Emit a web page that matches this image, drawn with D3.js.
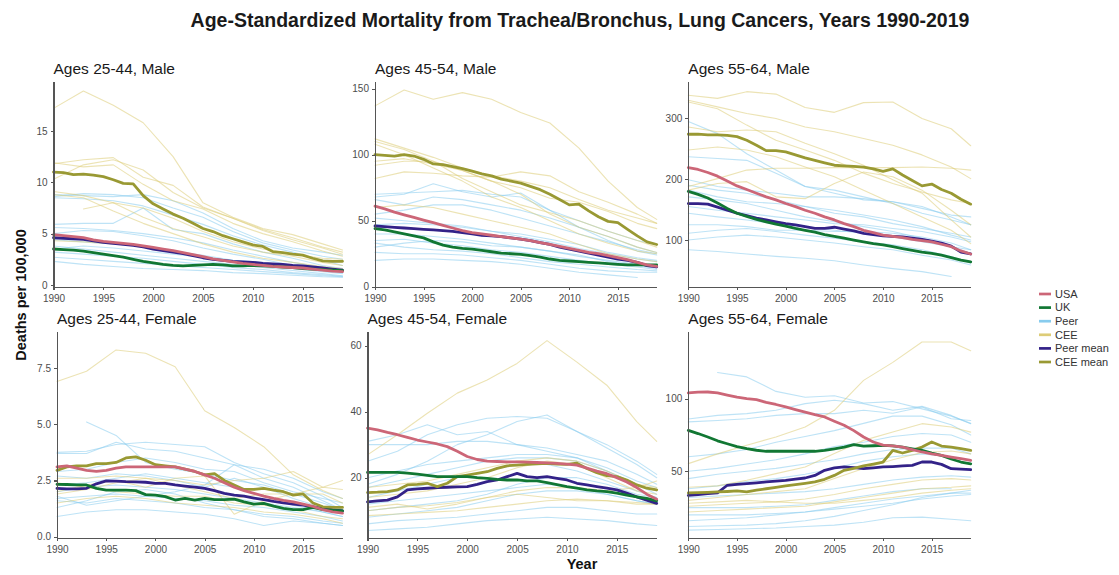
<!DOCTYPE html>
<head>
<meta charset="utf-8">
<title>Age-Standardized Mortality from Trachea/Bronchus, Lung Cancers</title>
<script src="https://d3js.org/d3.v7.min.js"></script>
<style>
body { margin: 0; background: #ffffff; }

/* AXES */
.axis path, .axis line {
  stroke: #555555;
  stroke-width: 1.1;
  shape-rendering: crispEdges;
}
.axis text {
  fill: #4d4d4d;
  font-family: "Liberation Sans", Arial, sans-serif;
  font-size: 10px;
}

/* TEXTS */
.main_title { font-family: "Liberation Sans", Arial, sans-serif; font-weight: bold; font-size: 19.5px; fill: #1a1a1a; }
.panel_title { font-family: "Liberation Sans", Arial, sans-serif; font-size: 15.5px; fill: #1a1a1a; }
.axis_title { font-family: "Liberation Sans", Arial, sans-serif; font-weight: bold; font-size: 14.5px; fill: #111111; }
.legend_text { font-family: "Liberation Sans", Arial, sans-serif; font-size: 11px; fill: #333333; }

/* LINES */
.serie { fill: none; stroke-linejoin: round; stroke-linecap: round; }
.bg { stroke-width: 1.1; opacity: 0.55; }
.main { stroke-width: 2.8; }
</style>
</head>

<body>
<div id="container"></div>

<script>

//------------------------0. DATA-------------------------//

const years = [1990, 1991, 1992, 1993, 1994, 1995, 1996, 1997, 1998, 1999,
               2000, 2001, 2002, 2003, 2004, 2005, 2006, 2007, 2008, 2009,
               2010, 2011, 2012, 2013, 2014, 2015, 2016, 2017, 2018, 2019];
// individual peer / CEE countries, read every third year
const gridYears = [1990, 1993, 1996, 1999, 2002, 2005, 2008, 2011, 2014, 2017, 2019];
const xTicks = [1990, 1995, 2000, 2005, 2010, 2015];

const panelTitles = ["Ages 25-44, Male", "Ages 45-54, Male", "Ages 55-64, Male",
                     "Ages 25-44, Female", "Ages 45-54, Female", "Ages 55-64, Female"];
const yTicks = [[0, 5, 10, 15], [0, 50, 100, 150], [100, 200, 300],
                [0, 2.5, 5, 7.5], [20, 40, 60], [50, 100]];
const yDomains = [[-0.2, 19.8], [-0.2, 155.3], [22.7, 360.4],
                  [-0.07, 9.11], [1.64, 64.2], [3.9, 146.1]];

const legendLabels = ["USA", "UK", "Peer", "CEE", "Peer mean", "CEE mean"];
const legendColors = ["#CC6677", "#117733", "#88CCEE", "#DDCC77", "#332288", "#999933"];

// --- Ages 25-44, Male
const usa_m2544 = [4.9, 4.8, 4.7, 4.6, 4.4, 4.25, 4.15, 4.05, 3.95, 3.8, 3.65, 3.5, 3.35, 3.15, 2.95, 2.75, 2.55, 2.4, 2.25, 2.1, 2.0, 1.9, 1.8, 1.75, 1.7, 1.65, 1.55, 1.45, 1.35, 1.3];
const uk_m2544 = [3.5, 3.45, 3.4, 3.3, 3.15, 3.0, 2.85, 2.7, 2.5, 2.3, 2.15, 2.0, 1.9, 1.85, 1.9, 1.95, 2.0, 1.95, 1.85, 1.85, 1.9, 1.85, 1.8, 1.75, 1.7, 1.6, 1.55, 1.5, 1.45, 1.4];
const peerMean_m2544 = [4.6, 4.55, 4.5, 4.45, 4.3, 4.15, 4.05, 3.95, 3.85, 3.7, 3.5, 3.35, 3.2, 3.05, 2.85, 2.65, 2.5, 2.4, 2.3, 2.25, 2.2, 2.1, 2.05, 2.0, 1.9, 1.85, 1.75, 1.65, 1.55, 1.45];
const ceeMean_m2544 = [11.0, 10.95, 10.75, 10.8, 10.7, 10.55, 10.25, 9.9, 9.85, 8.7, 7.9, 7.4, 6.9, 6.5, 6.0, 5.5, 5.2, 4.8, 4.5, 4.2, 3.9, 3.75, 3.25, 3.15, 3.0, 2.9, 2.6, 2.35, 2.3, 2.3];
const cee_m2544 = [
  [17.2, 18.9, 17.5, 15.8, 12.5, 8.0, 6.6, 5.5, 4.9, 4.0, 3.4],
  [11.8, 12.2, 12.4, 10.5, 9.7, 7.6, 6.5, 5.4, 4.6, 3.7, 3.2],
  [10.3, 11.7, 12.2, 11.2, 9.0, 7.5, 6.5, 5.3, 4.4, 3.6, 3.0],
  [11.9, 11.5, 11.7, 9.8, 8.2, 7.4, 6.0, 5.0, 4.2, 3.3, 2.8],
  [9.1, 8.7, 8.0, 6.6, 5.5, 4.7, 3.8, 3.2, 2.8, 2.2, 1.9],
  [null, 7.4, 8.0, 7.5, 6.5, 5.2, 4.2, 3.5, 3.0, 2.6, 2.5],
  [8.8, 8.5, 7.2, 6.0, 5.0, 4.0, 3.2, 2.6, 2.2, 1.8, 1.6],
  [4.3, 4.2, 4.0, 3.8, 3.3, 2.8, 2.2, 1.9, 1.7, 1.4, 1.3]
];
const peer_m2544 = [
  [8.6, 8.9, 8.8, 8.5, 7.5, 6.6, 5.2, 4.1, 3.4, 2.8, 2.5],
  [8.5, 8.4, 8.2, 7.7, 6.8, 5.9, 4.8, 3.9, 3.2, 2.4, 1.9],
  [8.8, 8.7, 8.6, 8.8, 8.2, 7.0, 5.5, 4.3, 3.6, 3.2, 2.9],
  [5.9, 6.0, 6.0, 7.5, 5.4, 5.0, 4.0, 3.2, 2.6, 1.9, 1.6],
  [5.6, 5.5, 5.3, 5.0, 4.6, 4.1, 3.4, 2.8, 2.2, 1.7, 1.4],
  [5.0, 5.3, 5.2, 4.8, 4.3, 3.6, 3.0, 2.5, 1.9, 1.5, 1.2],
  [4.4, 4.2, 4.0, 3.8, 3.3, 2.9, 2.4, 2.1, 1.6, 1.3, 1.1],
  [3.8, 3.5, 3.2, 2.9, 2.6, 2.3, 2.0, 1.7, 1.4, 1.1, 0.9],
  [3.2, 3.0, 2.8, 2.6, 2.3, 2.0, 1.7, 1.5, 1.2, 1.0, 0.85],
  [2.7, 2.5, 2.3, 2.1, 1.9, 1.7, 1.5, 1.3, 1.1, 0.9, 0.8],
  [2.3, 2.0, 1.8, 1.6, 1.5, 1.4, 1.2, 1.1, 0.95, 0.8, 0.75],
  [3.5, 3.8, 3.6, 3.3, 3.0, 2.7, 2.4, 2.2, 1.8, 1.5, 1.3]
];

// --- Ages 45-54, Male
const usa_m4554 = [61, 59, 56.5, 54.5, 52.5, 50.5, 48.5, 46.5, 44.5, 42.5, 41, 40, 39, 38, 37, 36, 35, 33.5, 32, 30.5, 29, 27.5, 26, 25, 23.5, 22, 20.5, 18.5, 16.5, 15.5];
const uk_m4554 = [44, 43, 41.5, 40, 38.5, 37, 34, 31.5, 30, 29, 28.5, 27.5, 26.5, 25.5, 25, 24.5, 23.5, 22.5, 21, 20, 19.5, 19, 18.5, 18, 17.5, 17, 16.5, 16.5, 16.5, 16.5];
const peerMean_m4554 = [46, 45.5, 45, 44.5, 44, 43.5, 43, 42.5, 42, 41, 40, 39, 38.5, 38, 37, 36, 35, 33.5, 32, 30, 28.5, 27, 25.5, 24, 22.5, 21, 20, 18.5, 16, 15];
const ceeMean_m4554 = [100, 99.5, 99, 100, 99, 96.5, 93, 92.5, 91, 89.5, 87.5, 85.5, 84, 81.5, 80, 78.5, 76, 73.5, 70, 66, 62, 62.5, 57.5, 53, 49.5, 48.5, 43.5, 38.5, 34, 32];
const cee_m4554 = [
  [137, 149, 142, 147, 142, 132, 124, 105, 80, 60, 51],
  [112, 105, 98, 90, 84, 80, 75, 66, 58, 52, 48],
  [82, 87, 86, 84, 83, 87, 84, 72, 64, 55, 48],
  [110, 104, 95, 82, 72, 62, 56, 50, 42, 35, 30],
  [92, 95, 95, 88, 80, 75, 67, 64, 57, 48, 44],
  [108, 100, 90, 80, 68, 60, 50, 40, 33, 27, 25],
  [95, 97, 93, 88, 80, 70, 55, 45, 38, 30, 26],
  [60, 62, 60, 55, 50, 45, 40, 32, 25, 21, 19]
];
const peer_m4554 = [
  [68, 70, 78, 72, 68, 71, 58, 45, 35, 27, 24],
  [70, 71, 72, 73, 70, 68, 58, 50, 42, 35, 32],
  [66, 62, 68, 66, 62, 58, 52, 45, 38, 30, 26],
  [55, 58, 62, 62, 58, 52, 46, 40, 34, 28, 25],
  [52, 50, 48, 46, 42, 38, 34, 29, 25, 21, 19],
  [47, 48, 47, 45, 42, 40, 36, 32, 26, 22, 20],
  [40, 40, 38, 36, 33, 30, 27, 23, 20, 17, 15],
  [35, 36, 33, 31, 28, 26, 23, 20, 17, 15, 13],
  [33, 30, 28, 27, 25, 22, 19, 17, 15, 13, 12],
  [26, 25, 25, 24, 22, 20, 17, 14, 12, 11, 11],
  [20, 21, 21, 20, 19, 17, 14, 11, 9, 7, null],
  [30, 33, 35, 34, 31, 30, 27, 24, 19, 16, 14]
];

// --- Ages 55-64, Male
const usa_m5564 = [219, 216, 211, 205, 197, 189, 183, 177, 171, 166, 160, 155, 149, 144, 138, 133, 127, 122, 116, 112, 108, 106, 104, 101, 99, 97, 93, 89, 82, 77];
const uk_m5564 = [180, 175, 169, 161, 152, 144, 139, 134, 130, 126, 123, 119, 116, 113, 109, 106, 103, 100, 97, 94, 92, 89, 86, 83, 80, 78, 75, 71, 67, 64];
const peerMean_m5564 = [160, 160, 159, 154, 149, 144, 140, 136, 133, 130, 127, 125, 122, 119, 119, 121, 118, 115, 111, 109, 107, 106, 105, 103, 101, 98, 95, 90, 80, 77];
const ceeMean_m5564 = [274, 274, 273, 273, 272, 270, 264, 256, 247, 247, 245, 240, 235, 231, 227, 223, 222, 221, 220, 217, 213, 217, 207, 198, 189, 192, 183, 177, 167, 159];
const cee_m5564 = [
  [338, 333, 344, 340, 318, 310, 326, 327, 300, 283, 255],
  [330, 319, 308, 300, 286, 278, 267, 256, 240, 220, 201],
  [327, 316, 289, 264, 248, 231, 210, 193, 179, 166, 160],
  [188, 201, 215, 218, 218, 219, 219, 219, 220, 218, 215],
  [182, 193, 196, 171, 168, 193, 212, 204, 182, 149, 125],
  [286, 278, 281, 278, 259, 242, 223, 199, 177, 133, 105],
  [248, 253, 248, 237, 220, 204, 182, 160, 138, 116, 94]
];
const peer_m5564 = [
  [295, 275, 242, 215, 188, 182, 171, 160, 144, 133, 125],
  [237, 234, 231, 210, 188, 177, 166, 163, 155, 138, 125],
  [199, 188, 182, 177, 171, 171, 168, 163, 152, 141, 138],
  [182, 171, 163, 160, 155, 144, 138, 127, 119, 111, 105],
  [155, 149, 144, 138, 133, 127, 125, 119, 114, 105, 97],
  [144, 138, 133, 127, 122, 116, 111, 105, 97, 89, 84],
  [111, 116, 119, 114, 108, 103, 97, 92, 84, 73, 62],
  [100, 105, 108, 105, 100, 95, 89, 84, 75, 67, 59],
  [84, 81, 77, 73, 70, 66, 59, 53, 48, 40, null],
  [190, 182, 177, 166, 155, 149, 141, 133, 122, 108, 100],
  [171, 166, 160, 149, 138, 130, 122, 114, 103, 89, 78],
  [125, 125, 122, 116, 116, 114, 114, 111, 105, 95, 84]
];

// --- Ages 25-44, Female
const usa_f2544 = [3.1, 3.15, 3.05, 2.95, 2.9, 2.95, 3.05, 3.1, 3.1, 3.1, 3.1, 3.1, 3.1, 3.0, 2.9, 2.75, 2.6, 2.4, 2.2, 2.05, 1.93, 1.8, 1.7, 1.62, 1.55, 1.45, 1.35, 1.2, 1.1, 1.05];
const uk_f2544 = [2.33, 2.32, 2.3, 2.3, 2.15, 2.07, 2.07, 2.07, 2.05, 1.87, 1.85, 1.78, 1.63, 1.7, 1.63, 1.7, 1.65, 1.65, 1.67, 1.55, 1.45, 1.48, 1.36, 1.26, 1.2, 1.2, 1.3, 1.2, 1.17, 1.15];
const peerMean_f2544 = [2.15, 2.13, 2.13, 2.15, 2.35, 2.48, 2.47, 2.45, 2.44, 2.42, 2.37, 2.37, 2.3, 2.25, 2.2, 2.15, 2.05, 1.93, 1.85, 1.8, 1.72, 1.65, 1.57, 1.5, 1.45, 1.4, 1.33, 1.26, 1.2, 1.15];
const ceeMean_f2544 = [2.95, 3.1, 3.15, 3.15, 3.25, 3.25, 3.3, 3.5, 3.55, 3.4, 3.2, 3.15, 3.1, 3.0, 2.9, 2.75, 2.8, 2.5, 2.3, 2.1, 2.1, 2.15, 2.07, 2.0, 1.85, 1.9, 1.5, 1.33, 1.3, 1.3];
const cee_f2544 = [
  [6.9, 7.35, 8.3, 8.15, 7.55, 5.6, 4.85, 4.0, 2.75, 2.05, 1.7],
  [2.0, 2.3, 2.5, 2.2, 2.6, 2.7, 1.0, 1.6, 1.9, 2.2, 2.5],
  [2.6, 2.6, 2.7, 2.6, 2.5, 2.3, 2.5, 2.6, 2.9, 2.2, 2.1],
  [1.9, 2.1, 2.4, 2.6, 2.3, 2.0, 1.7, 1.9, 1.9, 1.9, 1.5],
  [2.4, 2.2, 2.0, 1.9, 1.8, 1.8, 1.5, 1.4, 1.2, 0.9, 0.8],
  [1.5, 1.7, 1.8, 1.7, 1.5, 1.4, 1.3, 1.1, 1.0, 0.8, 0.6]
];
const peer_f2544 = [
  [null, 5.1, 4.5, 3.3, 3.0, 2.8, 2.5, 2.3, 1.9, 1.5, 1.2],
  [3.75, 3.8, 4.1, 4.2, 4.1, 4.0, 3.3, 2.8, 2.4, 1.8, 1.3],
  [3.7, 3.7, 4.2, 3.9, 3.8, 3.5, 3.2, 3.0, 2.6, 2.0, 1.7],
  [2.9, 3.0, 3.3, 3.5, 3.3, 3.0, 2.9, 2.4, 2.0, 1.7, 1.5],
  [2.7, 2.6, 2.8, 2.7, 2.5, 2.2, 2.6, 2.2, 1.7, 1.3, 1.1],
  [2.0, 2.2, 2.3, 2.2, 2.1, 1.9, 1.7, 1.5, 1.3, 1.1, 0.9],
  [1.7, 1.8, 1.9, 1.8, 1.7, 1.6, 1.4, 1.3, 1.1, 0.9, 0.7],
  [1.6, 1.5, 1.7, 1.6, 1.5, 1.3, 1.2, 0.9, 0.8, 0.6, 0.5],
  [0.9, 1.1, 1.2, 1.2, 1.1, 1.0, 0.8, 0.5, 0.7, 0.6, 0.5],
  [1.3, 1.6, 2.0, 2.1, 1.9, 1.5, 1.2, 1.0, 0.9, 0.7, 0.6],
  [2.3, 2.4, 2.6, 2.8, 2.6, 2.4, 2.2, 1.8, 1.4, 1.1, 0.9],
  [1.8, 1.4, 1.6, 1.8, 2.0, 2.3, 3.2, 2.6, 2.2, 1.6, 1.2]
];

// --- Ages 45-54, Female
const usa_f4554 = [35, 34.5, 33.7, 33, 32.2, 31.4, 30.8, 30.2, 29.4, 28, 26.4, 25.5, 25, 24.9, 24.8, 24.8, 24.7, 24.6, 24.5, 24.3, 24.1, 23.8, 22.9, 22, 21.2, 20, 18.7, 17, 15, 13.5];
const uk_f4554 = [21.6, 21.6, 21.6, 21.6, 21.4, 21.1, 20.7, 20.3, 20.3, 20.3, 20.3, 20.0, 19.8, 19.5, 19.3, 19.3, 19.0, 19.0, 18.5, 17.9, 17.3, 16.8, 16.3, 16.0, 15.8, 15.3, 14.7, 14.2, 13.7, 13.0];
const peerMean_f4554 = [12.7, 13.0, 13.2, 14.2, 16.3, 16.6, 16.8, 17.0, 17.1, 17.2, 17.3, 18.0, 18.8, 19.3, 20.3, 21.3, 20.3, 20.0, 20.3, 19.8, 19.3, 18.3, 17.8, 17.3, 16.8, 16.3, 15.3, 14.2, 13.2, 12.2];
const ceeMean_f4554 = [15.5, 15.6, 15.8, 16.3, 17.8, 18.0, 18.3, 17.3, 18.3, 20.3, 20.8, 21.3, 21.8, 22.8, 23.6, 23.8, 24.0, 24.2, 24.3, 24.1, 24.0, 24.4, 22.8, 21.5, 20.6, 20.3, 19.3, 17.8, 16.8, 16.3];
const cee_f4554 = [
  [26.9, 33, 39.5, 45.6, 49.6, 54.6, 61.5, 55, 48, 37, 31],
  [11, 12, 10.5, 12, 14, 16, 17, 17, 16, 17, 19],
  [14, 15, 16, 18, 20, 23, 25, 24, 20, 16, 15],
  [10, 11, 11.5, 12.5, 14, 15, 14, 13, 13, 12, 12],
  [8.5, 9, 9.5, 10, 11, 12, 13, 13.5, 13, 12.5, 12],
  [17, 18, 19, 21, 23, 25, 26, 25, 22, 18, 17]
];
const peer_f4554 = [
  [25, 28, 33, 36, 38, 38.5, 38, 34, 29, 24, 20],
  [18, 21, 25, 30, 33, 37, 39, 34, 30, 25, 21],
  [31, 33, 36, 33, 34, 30, 29, 27, 25, 21, 18],
  [30, 30, 30, 31, 31, 30, 28, 26, 22, 18, 16],
  [17, 19, 21, 23, 25, 26, 26, 25, 22, 18, 15],
  [14, 16, 18, 20, 22, 24, 24, 22, 19, 16, 14],
  [12, 13, 14, 15, 16, 17, 18, 17, 15, 13, 12],
  [8, 9, 10, 11, 13, 15, 16, 16, 15, 13, 12],
  [6, 7, 7.5, 8, 9, 10, 11, 11, 10, 9, 9],
  [4, 4.5, 5, 6, 7, 7.5, 8, 7.5, 7, 6, 5.5],
  [10, 11, 12, 13, 15, 18, 20, 20, 18, 15, 14],
  [20, 22, 24, 25, 26, 27, 27, 26, 23, 19, 17]
];

// --- Ages 55-64, Female
const usa_f5564 = [104, 104.5, 104.6, 104, 102.5, 101, 100, 99.3, 97.5, 96, 94.3, 92.5, 90.8, 89, 87.4, 84.5, 81.7, 78, 73.6, 70.2, 68, 67.5, 66.7, 65, 63.3, 62, 61, 59.8, 58.7, 57.6];
const uk_f5564 = [78.2, 76, 73.6, 71, 69, 67, 65.6, 64.5, 63.8, 63.8, 63.8, 63.8, 63.8, 63.8, 64.4, 65.5, 66.7, 68.3, 67.4, 67.6, 67.9, 67.5, 66.7, 65.5, 64.4, 62.5, 61, 58.5, 56.4, 55.2];
const peerMean_f5564 = [33.5, 34, 34.6, 35.1, 40.4, 41, 41.5, 42.1, 42.7, 43.2, 43.8, 44.6, 45.4, 47.2, 50.7, 52.3, 53, 52.5, 51.8, 52.4, 53, 53.3, 53.7, 54.1, 56.4, 56.4, 54.8, 51.8, 51.5, 51.1];
const ceeMean_f5564 = [35.1, 35.3, 35.5, 35.8, 36.1, 36.5, 35.8, 37, 38, 39, 40, 40.8, 41.7, 42.7, 44.5, 47.2, 50.7, 52, 53.7, 55, 56.4, 64.4, 62.6, 64.4, 66.7, 70.2, 67.4, 66.7, 65.6, 64.4];
const cee_f5564 = [
  [55.3, 62, 68, 73.6, 80.5, 92, 112.6, 125, 139, 139, 133],
  [39, 40, 43.8, 48.4, 53, 62.2, 71.3, 77, 82.8, 80.5, 77],
  [30, 32, 34, 36, 38, 45, 52, 58, 63, 64, 62],
  [26, 27, 28, 29, 31, 34, 38, 41, 44, 45, 44],
  [22, 23, 24, 25, 26, 29, 32, 35, 38, 39, 40],
  [28, 29, 30, 29, 28, 28, 30, 32, 35, 37, 38]
];
const peer_f5564 = [
  [null, 118, 115, 105, 101, 102, 97, 98, 93, 88, 83],
  [86, 88.5, 89.7, 92, 96.6, 98.9, 96.6, 92, 94.7, 88.5, 82.8],
  [84, 85, 86.2, 88.5, 89.7, 89.7, 92, 90, 94.3, 86.2, 85],
  [60, 62, 65, 70, 74, 78, 83, 88, 88, 82, 75],
  [50, 52, 55, 58, 62, 67, 70, 74, 76, 75, 70],
  [45, 48, 50, 52, 55, 58, 62, 65, 66, 66, 62],
  [38, 40, 43, 45, 48, 52, 57, 60, 62, 60, 57],
  [32, 33, 34, 35, 36, 38, 41, 44, 46, 47, 46],
  [25, 25, 25, 26, 27, 30, 33, 36, 38, 38, null],
  [20, 20, 20, 21, 22, 24, 26, 28, 31, 33, 34],
  [9.5, 10, 10.5, 11, 12, 13, 15, 18, 18.5, 17, 16],
  [12, 12.5, 13, 14, 16, 19, 23, 27, 32, 35, 37],
  [16, 17, 18, 20, 22, 25, 28, 31, 33, 35, 35]
];

//------------------------1. PREPARATION-------------------------//

const width = 1119, height = 575;

// plot areas of the six panels (pixels)
const layout = [
  {x0: 53.5, x1: 342.5, y0: 81.7, y1: 287},
  {x0: 375, x1: 656.7, y0: 81.7, y1: 287},
  {x0: 688.3, x1: 970.7, y0: 81.7, y1: 287},
  {x0: 57, x1: 342.5, y0: 331.7, y1: 538.3},
  {x0: 367.5, x1: 656.7, y0: 331.7, y1: 538.3},
  {x0: 688.3, x1: 970.7, y0: 331.7, y1: 538.3}
];

const panels = [
  {usa: usa_m2544, uk: uk_m2544, peerMean: peerMean_m2544, ceeMean: ceeMean_m2544, peer: peer_m2544, cee: cee_m2544},
  {usa: usa_m4554, uk: uk_m4554, peerMean: peerMean_m4554, ceeMean: ceeMean_m4554, peer: peer_m4554, cee: cee_m4554},
  {usa: usa_m5564, uk: uk_m5564, peerMean: peerMean_m5564, ceeMean: ceeMean_m5564, peer: peer_m5564, cee: cee_m5564},
  {usa: usa_f2544, uk: uk_f2544, peerMean: peerMean_f2544, ceeMean: ceeMean_f2544, peer: peer_f2544, cee: cee_f2544},
  {usa: usa_f4554, uk: uk_f4554, peerMean: peerMean_f4554, ceeMean: ceeMean_f4554, peer: peer_f4554, cee: cee_f4554},
  {usa: usa_f5564, uk: uk_f5564, peerMean: peerMean_f5564, ceeMean: ceeMean_f5564, peer: peer_f5564, cee: cee_f5564}
];

const svg = d3.select("div#container")
  .append("svg")
    .attr("width", width)
    .attr("height", height);

svg.append("rect").attr("width", width).attr("height", height).attr("fill", "#ffffff");

function toPoints(xs, vals) {
  return xs.map(function(y, i) { return {ano: y, valor: vals[i]}; });
}

//-------------------------2. DRAWING----------------------------//

panels.forEach(function(p, k) {
  const L = layout[k];

  const xScale = d3.scaleLinear().domain([1990, 2019]).range([L.x0, L.x1]);
  const yScale = d3.scaleLinear().domain(yDomains[k]).range([L.y1, L.y0]);

  const line = d3.line()
    .defined(function(d) { return d.valor != null; })
    .x(function(d) { return xScale(d.ano); })
    .y(function(d) { return yScale(d.valor); });

  const g = svg.append("g");

  // background countries
  p.peer.forEach(function(s) {
    g.append("path").attr("class", "serie bg")
      .attr("stroke", legendColors[2])
      .attr("d", line(toPoints(gridYears, s)));
  });
  p.cee.forEach(function(s) {
    g.append("path").attr("class", "serie bg")
      .attr("stroke", legendColors[3])
      .attr("d", line(toPoints(gridYears, s)));
  });

  // highlighted series
  [[p.peerMean, 4], [p.ceeMean, 5], [p.uk, 1], [p.usa, 0]].forEach(function(m) {
    g.append("path").attr("class", "serie main")
      .attr("stroke", legendColors[m[1]])
      .attr("d", line(toPoints(years, m[0])));
  });

  // axes
  const fmt = (k === 3) ? d3.format(".1f") : d3.format("d");
  svg.append("g")
    .attr("class", "axis")
    .attr("transform", "translate(0," + L.y1 + ")")
    .call(d3.axisBottom(xScale).tickValues(xTicks).tickFormat(d3.format("d"))
      .tickSize(3).tickSizeOuter(0).tickPadding(4.5));

  svg.append("g")
    .attr("class", "axis")
    .attr("transform", "translate(" + L.x0 + ",0)")
    .call(d3.axisLeft(yScale).tickValues(yTicks[k]).tickFormat(fmt)
      .tickSize(3).tickSizeOuter(0).tickPadding(3));

  // panel title
  svg.append("text")
    .attr("class", "panel_title")
    .attr("x", L.x0)
    .attr("y", L.y0 - 8)
    .text(panelTitles[k]);
});

//---------------------------TITLES-----------------------------//

svg.append("text")
  .attr("class", "main_title")
  .attr("x", 580)
  .attr("y", 26.5)
  .attr("text-anchor", "middle")
  .text("Age-Standardized Mortality from Trachea/Bronchus, Lung Cancers, Years 1990-2019");

svg.append("text")
  .attr("class", "axis_title")
  .attr("transform", "translate(26,295) rotate(-90)")
  .attr("text-anchor", "middle")
  .text("Deaths per 100,000");

svg.append("text")
  .attr("class", "axis_title")
  .attr("x", 582)
  .attr("y", 569)
  .attr("text-anchor", "middle")
  .style("font-size", "14.5px")
  .text("Year");

//---------------------------LEGEND-----------------------------//

const legend = svg.append("g").selectAll("g")
  .data(legendLabels)
  .enter()
  .append("g")
  .attr("transform", function(d, i) { return "translate(1039," + (294 + i * 13.6) + ")"; });

legend.append("line")
  .attr("x1", 0).attr("x2", 12)
  .attr("stroke", function(d, i) { return legendColors[i]; })
  .attr("stroke-width", 2.7);

legend.append("text")
  .attr("class", "legend_text")
  .attr("x", 16)
  .attr("dy", "0.35em")
  .text(function(d) { return d; });

</script>
